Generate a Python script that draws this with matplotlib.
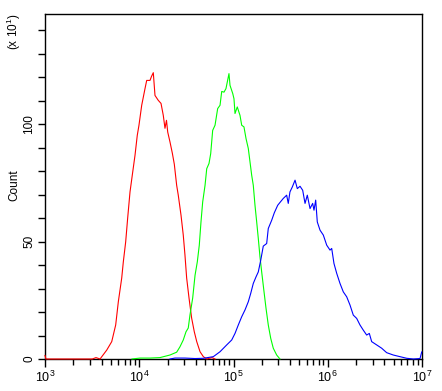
import numpy as np
import matplotlib
matplotlib.use("Agg")
import matplotlib.pyplot as plt
from matplotlib.ticker import LogLocator, MultipleLocator, FixedLocator

plt.rcParams['font.family'] = ['Liberation Sans', 'DejaVu Sans']
plt.rcParams['mathtext.fontset'] = 'custom'
plt.rcParams['mathtext.rm'] = 'Liberation Sans'
plt.rcParams['mathtext.it'] = 'Liberation Sans'
plt.rcParams['mathtext.bf'] = 'Liberation Sans'

# log10 of fluorescence intensity, and counts (x10)
red_log = [3.000, 3.010, 3.502, 3.541, 3.584, 3.655, 3.708, 3.750, 3.778, 3.814, 3.831, 3.856,
           3.877, 3.902, 3.926, 3.955, 3.979, 3.997, 4.026, 4.061, 4.079, 4.114, 4.130,
           4.149, 4.167, 4.202, 4.231, 4.255, 4.273, 4.289, 4.302, 4.326, 4.351, 4.372,
           4.397, 4.414, 4.443, 4.467, 4.485, 4.503, 4.528, 4.556, 4.584, 4.610, 4.645,
           4.680, 4.716, 4.772, 4.804]
red_cnt = [1.5, 0.0, 0.0, 0.6, 0.0, 3.8, 7.4, 14.5, 24.4, 34.5, 41.4, 49.9,
           60.0, 71.2, 78.3, 86.8, 95.3, 99.6, 108.1, 115.2, 118.7, 118.7, 120.4,
           122.0, 112.3, 110.2, 108.9, 103.8, 98.3, 101.7, 96.7, 92.5, 87.7, 83.0,
           74.0, 69.8, 61.3, 52.8, 44.3, 34.5, 26.0, 17.4, 11.6, 7.4, 3.1,
           1.0, 0.0, 0.6, 0.0]

green_log = [3.923, 4.008, 4.114, 4.220, 4.326, 4.397, 4.432, 4.467, 4.496, 4.520, 4.538,
             4.567, 4.592, 4.616, 4.637, 4.655, 4.673, 4.698, 4.716, 4.740, 4.758, 4.779,
             4.804, 4.832, 4.857, 4.875, 4.899, 4.920, 4.934, 4.952, 4.963, 4.992, 5.005,
             5.016, 5.040, 5.069, 5.087, 5.111, 5.133, 5.157, 5.175, 5.193, 5.210, 5.228,
             5.246, 5.263, 5.281, 5.299, 5.324, 5.345, 5.369, 5.395, 5.422, 5.458, 5.493]
green_cnt = [0.0, 0.4, 0.4, 0.6, 1.7, 2.9, 5.2, 8.1, 11.6, 13.2, 18.7,
             26.0, 35.7, 41.4, 48.5, 58.4, 66.9, 74.0, 81.1, 83.3, 87.5, 97.4,
             99.6, 106.7, 108.1, 114.0, 113.7, 115.2, 118.0, 121.6, 116.6, 113.1, 110.9,
             104.6, 107.4, 103.8, 99.6, 98.9, 93.9, 89.7, 84.0, 78.3, 74.0, 65.5,
             58.4, 51.4, 43.5, 37.1, 28.6, 21.6, 14.5, 8.8, 4.6, 1.7, 0.0]

blue_log = [4.326, 4.379, 4.485, 4.592, 4.680, 4.786, 4.857, 4.928, 4.981, 5.016, 5.051,
            5.087, 5.122, 5.157, 5.183, 5.210, 5.239, 5.263, 5.289, 5.316, 5.352, 5.369,
            5.405, 5.433, 5.469, 5.493, 5.528, 5.564, 5.581, 5.599, 5.624, 5.653, 5.677,
            5.706, 5.734, 5.759, 5.783, 5.812, 5.840, 5.854, 5.872, 5.889, 5.918, 5.953,
            5.989, 6.024, 6.042, 6.066, 6.095, 6.130, 6.165, 6.201, 6.236, 6.271, 6.307,
            6.342, 6.377, 6.413, 6.441, 6.466, 6.519, 6.572, 6.625, 6.695, 6.766, 6.838,
            6.908, 6.979, 6.997]
blue_cnt = [0.0, 0.4, 0.4, 0.2, 0.3, 1.0, 3.1, 6.0, 8.1, 10.9, 14.5,
            18.0, 20.9, 24.4, 28.0, 32.2, 35.0, 37.1, 42.1, 48.1, 49.2, 55.6,
            59.1, 62.3, 65.5, 66.7, 68.4, 69.8, 66.3, 71.2, 73.3, 76.2, 72.6,
            73.6, 71.9, 66.3, 69.8, 64.1, 66.3, 63.4, 67.7, 58.4, 54.9, 52.8,
            48.5, 46.4, 47.1, 40.7, 36.5, 32.2, 28.6, 26.5, 23.0, 18.7, 17.3,
            14.5, 12.3, 10.2, 10.9, 7.4, 6.0, 4.6, 2.7, 1.7, 1.0, 0.3,
            0.0, 0.2, 3.0]

y_major = [0, 50, 100]
y_minor_step = 10
x_lim = (1e3, 1e7)
y_lim = (0, 147)

fig = plt.figure(figsize=(4.42, 3.91), dpi=100)
ax = fig.add_axes([45/442, 1 - 359/391, (422-45)/442, (359-14)/391])

for lg, cnt, col in [(red_log, red_cnt, '#ff0000'),
                     (green_log, green_cnt, '#00ff00'),
                     (blue_log, blue_cnt, '#0000ff')]:
    ax.plot(10 ** np.array(lg), cnt, color=col, lw=0.8, clip_on=False, zorder=3)

ax.set_xscale('log')
ax.set_xlim(*x_lim)
ax.set_ylim(*y_lim)
ax.xaxis.set_major_locator(LogLocator(base=10, numticks=10))
ax.xaxis.set_minor_locator(LogLocator(base=10, subs=np.arange(2, 10), numticks=20))
ax.yaxis.set_major_locator(FixedLocator(y_major))
ax.yaxis.set_minor_locator(MultipleLocator(y_minor_step))

for s in ax.spines.values():
    s.set_linewidth(1.0)
    s.set_color('black')

ax.tick_params(axis='both', which='both', direction='out', color='black', width=1.0)
ax.tick_params(axis='x', which='major', length=6, labelsize=9, pad=2)
ax.tick_params(axis='x', which='minor', length=4)
ax.tick_params(axis='y', which='major', length=5, labelsize=8.5, pad=2)
ax.tick_params(axis='y', which='minor', length=5)
for lab in ax.get_yticklabels():
    lab.set_rotation(90)
    lab.set_va('center')

fig.text(14/442, 1 - 185/391, 'Count', rotation=90, fontsize=8.5,
         ha='center', va='center')
fig.text(14/442, 1 - 32/391, r'(x 10$^{1}$)', rotation=90, fontsize=8.5,
         ha='center', va='center')

fig.savefig('out.png', dpi=100)
